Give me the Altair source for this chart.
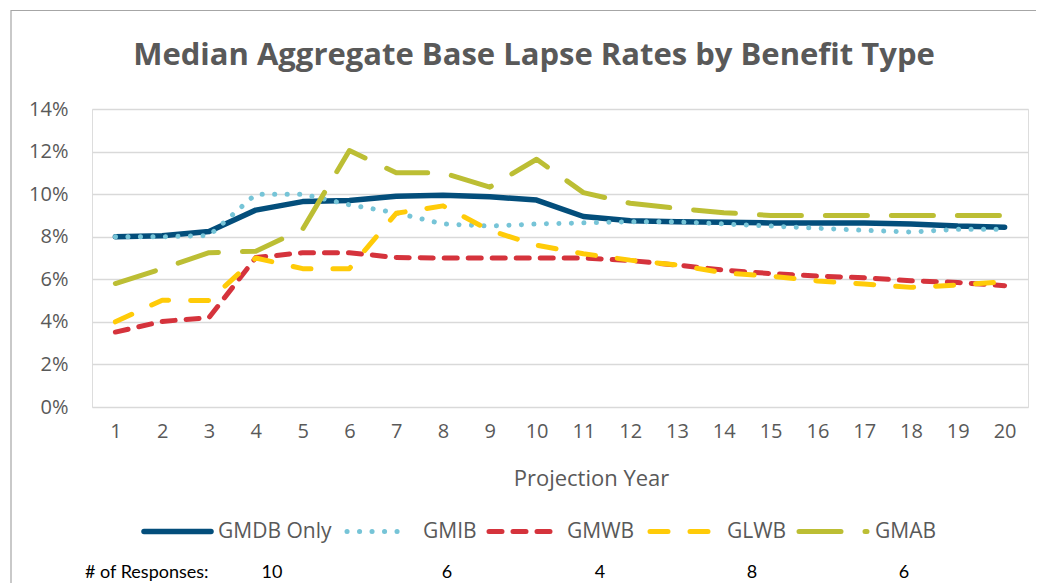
import altair as alt
import pandas as pd

# ---------------- data ----------------
years = list(range(1, 21))
series_names = ["GMDB Only", "GMIB", "GMWB", "GLWB", "GMAB"]

gmdb_only = [8.0, 8.05, 8.25, 9.25, 9.65, 9.7, 9.9, 9.95, 9.88, 9.72,
             8.95, 8.75, 8.7, 8.68, 8.65, 8.65, 8.65, 8.6, 8.5, 8.45]
gmib = [8.0, 8.0, 8.05, 10.0, 10.0, 9.5, 9.12, 8.6, 8.5, 8.6,
        8.65, 8.7, 8.7, 8.6, 8.5, 8.4, 8.3, 8.22, 8.35, 8.35]
gmwb = [3.52, 4.02, 4.2, 7.02, 7.25, 7.25, 7.02, 7.0, 7.0, 7.0,
        7.0, 6.88, 6.67, 6.43, 6.27, 6.15, 6.07, 5.93, 5.85, 5.7]
glwb = [4.0, 5.02, 5.0, 7.0, 6.5, 6.5, 9.1, 9.45, 8.3, 7.6,
        7.2, 6.9, 6.67, 6.3, 6.15, 5.92, 5.78, 5.62, 5.73, 5.88]
gmab = [5.8, 6.5, 7.25, 7.32, 8.35, 12.05, 11.0, 11.0, 10.33, 11.64,
        10.07, 9.57, 9.33, 9.13, 9.0, 9.0, 9.0, 9.0, 9.0, 9.0]

responses = [10, 6, 4, 8, 6]
y_ticks = [0.0, 0.02, 0.04, 0.06, 0.08, 0.10, 0.12, 0.14]

title_text = "Median Aggregate Base Lapse Rates by Benefit Type"
x_title = "Projection Year"
responses_label = "# of Responses:"

series_values = {
    "GMDB Only": gmdb_only,
    "GMIB": gmib,
    "GMWB": gmwb,
    "GLWB": glwb,
    "GMAB": gmab,
}

# ---------------- styles ----------------
colors = {
    "GMDB Only": "#034E7B",
    "GMIB": "#76C4D7",
    "GMWB": "#D5333C",
    "GLWB": "#FFCB08",
    "GMAB": "#BCBE34",
}
dashes = {
    "GMDB Only": None,
    "GMIB": [0.1, 12.4],
    "GMWB": [13, 11],
    "GLWB": [18, 22],
    "GMAB": [42, 24],
}
widths = {"GMDB Only": 5.5, "GMIB": 5, "GMWB": 5, "GLWB": 5, "GMAB": 5}

GREY = "#595959"
FONT = "Open Sans"
W, H = 936, 298
LEFT, TOP = 92, 109  # page position of the plot area

# legend layout (page pixel positions)
legend_sym_x0 = [144, 347, 489, 650, 799]
legend_sym_x1 = [211, 409, 554, 712, 867]
legend_label_x = [218, 423, 567, 727, 875]
legend_y = 531.5
responses_x = [272, 447, 600, 752, 904]
responses_y = 578

one = pd.DataFrame({"a": [0]})

x_axis = alt.Axis(
    title=x_title, labelAngle=0, domain=False, ticks=False, grid=False,
    labelFont=FONT, labelFontSize=20, labelColor=GREY, labelPadding=14,
    titleFont=FONT, titleFontSize=22, titleFontWeight="normal", titleColor=GREY,
    titleX=499, titleY=78, titleBaseline="alphabetic", titleAlign="center",
)
y_axis = alt.Axis(
    values=y_ticks, format=".0%", domain=False, ticks=False,
    labelFont=FONT, labelFontSize=20, labelColor=GREY, labelPadding=24,
    gridColor="#D9D9D9", gridWidth=1.5,
)

layers = []

# outer frame
layers.append(
    alt.Chart(one).mark_rect(fillOpacity=0, stroke="#A6A6A6", strokeWidth=1.2).encode(
        x=alt.value(11 - LEFT), x2=alt.value(1060 - LEFT),
        y=alt.value(10.5 - TOP), y2=alt.value(600 - TOP),
    )
)

for name in series_names:
    df = pd.DataFrame({"year": years, "rate": [v / 100 for v in series_values[name]]})
    mark_kw = dict(color=colors[name], strokeWidth=widths[name],
                   strokeCap="round", strokeJoin="round")
    if dashes[name] is not None:
        mark_kw["strokeDash"] = dashes[name]
    layers.append(
        alt.Chart(df).mark_line(**mark_kw).encode(
            x=alt.X("year:O", scale=alt.Scale(domain=years), axis=x_axis),
            y=alt.Y("rate:Q", scale=alt.Scale(domain=[0, 0.14]), axis=y_axis, title=None),
        )
    )

# chart title
layers.append(
    alt.Chart(pd.DataFrame({"t": [title_text]})).mark_text(
        font=FONT, fontSize=31, fontWeight="bold", color=GREY,
        align="center", baseline="alphabetic",
    ).encode(x=alt.value(534 - LEFT), y=alt.value(65 - TOP), text="t:N")
)

# legend
for i, name in enumerate(series_names):
    rule_kw = dict(color=colors[name], strokeWidth=widths[name], strokeCap="round")
    if dashes[name] is not None:
        rule_kw["strokeDash"] = dashes[name]
    layers.append(
        alt.Chart(one).mark_rule(**rule_kw).encode(
            x=alt.value(legend_sym_x0[i] - LEFT), x2=alt.value(legend_sym_x1[i] - LEFT),
            y=alt.value(legend_y - TOP),
        )
    )
    layers.append(
        alt.Chart(pd.DataFrame({"t": [name]})).mark_text(
            font=FONT, fontSize=21, color=GREY, align="left", baseline="middle",
        ).encode(x=alt.value(legend_label_x[i] - LEFT), y=alt.value(legend_y - TOP), text="t:N")
    )

# responses row
layers.append(
    alt.Chart(pd.DataFrame({"t": [responses_label]})).mark_text(
        font="Lato", fontSize=18, color="#000000", align="left", baseline="alphabetic",
    ).encode(x=alt.value(85 - LEFT), y=alt.value(responses_y - TOP), text="t:N")
)
for i, n in enumerate(responses):
    layers.append(
        alt.Chart(pd.DataFrame({"t": [str(n)]})).mark_text(
            font="Lato", fontSize=18, color="#000000", align="center", baseline="alphabetic",
        ).encode(x=alt.value(responses_x[i] - LEFT), y=alt.value(responses_y - TOP), text="t:N")
    )

chart = alt.layer(*layers).properties(
    width=W, height=H,
    padding={"left": LEFT - 8, "top": TOP - 8, "right": 8, "bottom": 575 - (TOP - 8) - H},
    autosize=alt.AutoSizeParams(type="none"),
).configure_view(stroke=None).configure(background="white")

chart.save("out.html", embed_options={"renderer": "svg", "actions": False})
